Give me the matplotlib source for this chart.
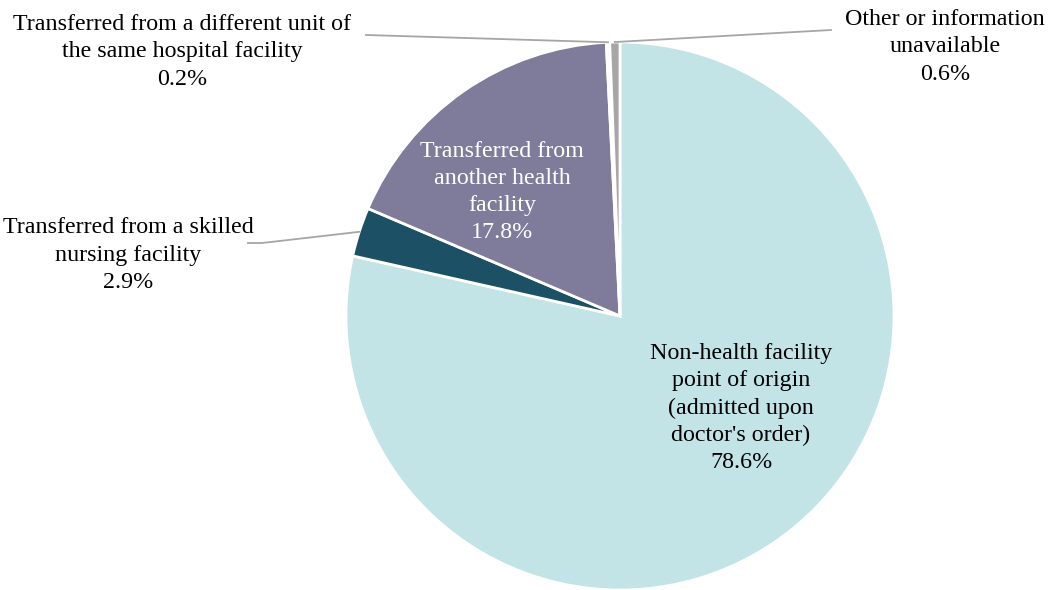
import numpy as np
import matplotlib
matplotlib.use("Agg")
import matplotlib.pyplot as plt

plt.rcParams['font.family'] = ['Liberation Serif', 'DejaVu Serif']

# slices, clockwise from 12 o'clock
CATEGORIES = [
    "Non-health facility\npoint of origin\n(admitted upon\ndoctor's order)",
    "Transferred from a skilled\nnursing facility",
    "Transferred from\nanother health\nfacility",
    "Transferred from a different unit of\nthe same hospital facility",
    "Other or information\nunavailable",
]
SHARES = [78.6, 2.9, 17.8, 0.2, 0.6]
COLORS = ['#C2E4E6', '#1C5064', '#7F7B9A', '#FFFFFF', '#A6A6A6']

W, H = 1063, 590
CX, CY, R = 620, H - 316, 274

fig = plt.figure(figsize=(W / 100, H / 100), dpi=100)
ax = fig.add_axes([0, 0, 1, 1])

wedges, _ = ax.pie(SHARES, colors=COLORS, startangle=90, counterclock=False,
                   center=(CX, CY), radius=R, frame=True,
                   wedgeprops=dict(edgecolor='white', linewidth=2))
ax.set_xlim(0, W)
ax.set_ylim(0, H)
ax.set_aspect('equal')
ax.axis('off')


def mid_point(w, frac=1.0):
    ang = np.deg2rad((w.theta1 + w.theta2) / 2)
    return CX + R * frac * np.cos(ang), CY + R * frac * np.sin(ang)


def label(i):
    return f"{CATEGORIES[i]}\n{SHARES[i]:.1f}%"


fs = 17.3
ls = 1.39
# inside labels
ax.text(741, H - 408, label(0), ha='center', va='center', fontsize=fs,
        color='black', linespacing=ls)
ax.text(502, H - 192, label(2), ha='center', va='center', fontsize=fs,
        color='white', linespacing=ls)

line_kw = dict(color='#A6A6A6', linewidth=1.3)

# skilled nursing facility
px, py = mid_point(wedges[1])
ax.plot([248, 262, px], [H - 243, H - 243, py], **line_kw)
ax.text(128, H - 255, label(1), ha='center', va='center', fontsize=fs,
        linespacing=ls)

# different unit
px, py = mid_point(wedges[3])
ax.plot([366, px], [H - 35, py], **line_kw)
ax.text(182, H - 52, label(3), ha='center', va='center', fontsize=fs,
        linespacing=ls)

# other / unavailable
px, py = mid_point(wedges[4])
ax.plot([px, 831], [py, H - 30], **line_kw)
ax.text(945, H - 47, label(4), ha='center', va='center', fontsize=fs,
        linespacing=ls)

fig.savefig('out.png', dpi=100)
